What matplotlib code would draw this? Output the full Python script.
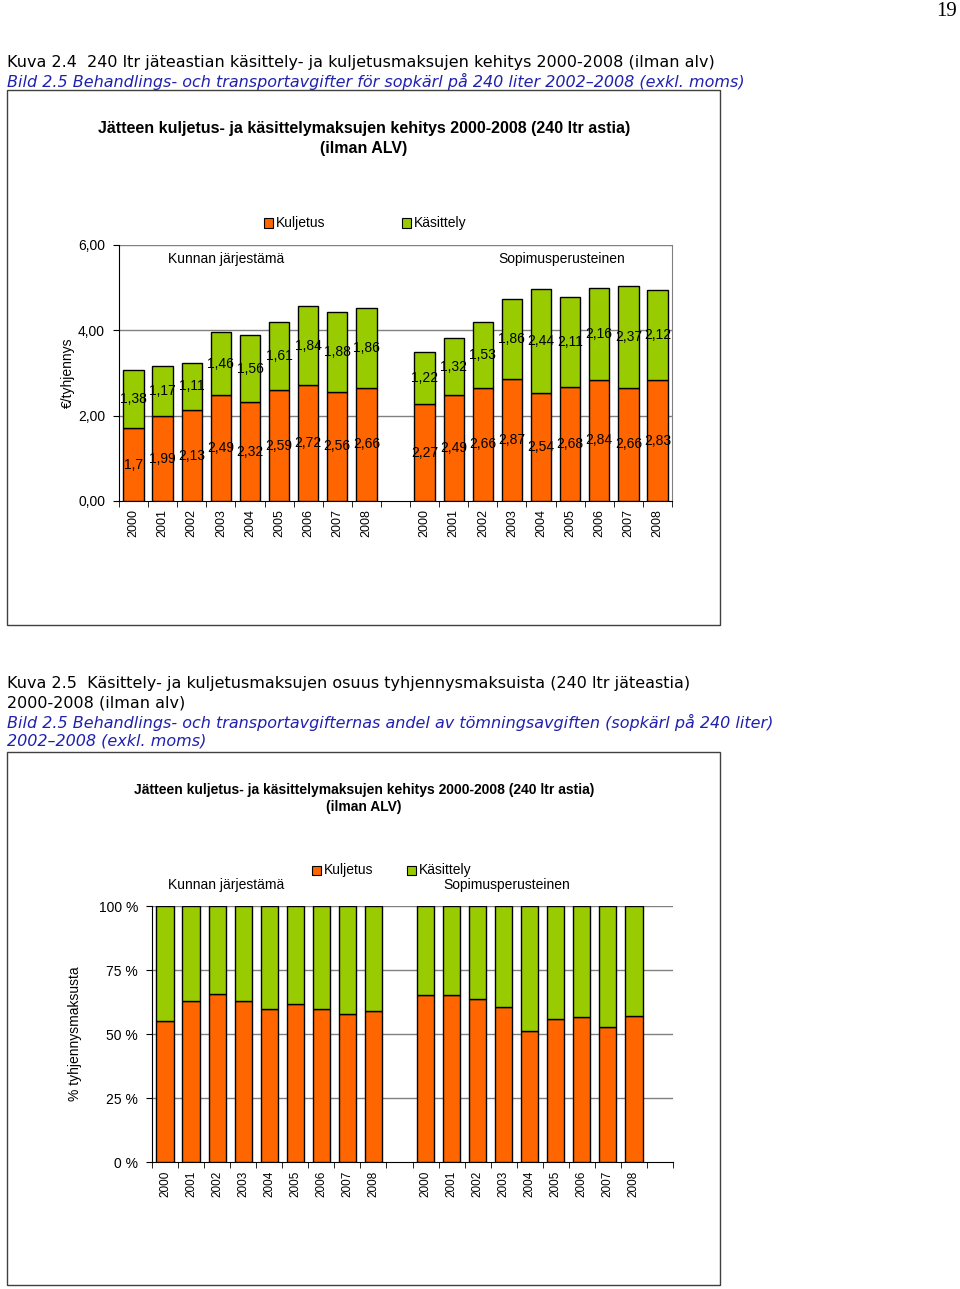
import matplotlib
matplotlib.use("Agg")
import matplotlib.pyplot as plt
from matplotlib.patches import Rectangle
import numpy as np

# ---------------- data ----------------
years = ["2000", "2001", "2002", "2003", "2004", "2005", "2006", "2007", "2008"]
groups = ["Kunnan järjestämä", "Sopimusperusteinen"]
kunta_kuljetus = [1.70, 1.99, 2.13, 2.49, 2.32, 2.59, 2.72, 2.56, 2.66]
kunta_kasittely = [1.38, 1.17, 1.11, 1.46, 1.56, 1.61, 1.84, 1.88, 1.86]
sopimus_kuljetus = [2.27, 2.49, 2.66, 2.87, 2.54, 2.68, 2.84, 2.66, 2.83]
sopimus_kasittely = [1.22, 1.32, 1.53, 1.86, 2.44, 2.11, 2.16, 2.37, 2.12]
series_names = ["Kuljetus", "Käsittely"]

ORANGE = "#FF6600"
GREEN = "#99CC00"
BLUE = "#2020b0"

W, H = 960, 1289
fig = plt.figure(figsize=(W / 100, H / 100), dpi=100)
plt.rcParams['font.family'] = ['Liberation Sans', 'DejaVu Sans']


def fx(x):
    return x / W


def fy(y):
    return 1 - y / H


def rect(l, t, r, b):
    return [fx(l), fy(b), (r - l) / W, (b - t) / H]


def ftext(x, y, s, **kw):
    fig.text(fx(x), fy(y), s, **kw)


# page number & captions
ftext(957, 12, "19", ha="right", va="center", fontsize=15, family=["Liberation Serif", "DejaVu Serif"])
cap_font = ["DejaVu Sans"]
CFS = 11.5
ftext(7, 62, "Kuva 2.4  240 ltr jäteastian käsittely- ja kuljetusmaksujen kehitys 2000-2008 (ilman alv)",
      fontsize=CFS, family=cap_font, va="center")
ftext(7, 81, "Bild 2.5 Behandlings- och transportavgifter för sopkärl på 240 liter 2002–2008 (exkl. moms)",
      fontsize=CFS, family=cap_font, va="center", color=BLUE, style="italic")
ftext(7, 684, "Kuva 2.5  Käsittely- ja kuljetusmaksujen osuus tyhjennysmaksuista (240 ltr jäteastia)",
      fontsize=CFS, family=cap_font, va="center")
ftext(7, 703, "2000-2008 (ilman alv)", fontsize=CFS, family=cap_font, va="center")
ftext(7, 722, "Bild 2.5 Behandlings- och transportavgifternas andel av tömningsavgiften (sopkärl på 240 liter)",
      fontsize=CFS, family=cap_font, va="center", color=BLUE, style="italic")
ftext(7, 741, "2002–2008 (exkl. moms)", fontsize=CFS, family=cap_font, va="center", color=BLUE, style="italic")

# chart frames
for (l, t, r, b) in [(7, 90, 720, 625), (7, 752, 720, 1285)]:
    fig.patches.append(Rectangle((fx(l), fy(b)), (r - l) / W, (b - t) / H, transform=fig.transFigure,
                                 fill=False, edgecolor="#404040", linewidth=1))

title_font = ["Liberation Sans Narrow", "Liberation Sans", "DejaVu Sans"]

# positions: 9 bars, gap, 9 bars
pos1 = np.arange(9)
pos2 = np.arange(10, 19)
positions = np.concatenate([pos1, pos2])
kulj = np.array(kunta_kuljetus + sopimus_kuljetus)
kasi = np.array(kunta_kasittely + sopimus_kasittely)
labels = years + years


def fmt(v):
    s = f"{v:.2f}".replace(".", ",")
    if s.endswith("0"):
        s = s[:-1]
    return s


def setup_x(ax, fs, right):
    ax.set_xlim(-0.5, right)
    ax.set_xticks(positions)
    ax.set_xticklabels(labels, rotation=90, fontsize=fs)
    ax.tick_params(axis="x", which="major", length=0, pad=6)
    ax.set_xticks(np.arange(-0.5, right + 0.5, 1), minor=True)
    ax.tick_params(axis="x", which="minor", length=4, direction="out")


# ---------------- chart 1 ----------------
ax1 = fig.add_axes(rect(119, 245, 672, 501))
ax1.bar(positions, kulj, width=0.7, color=ORANGE, edgecolor="black", linewidth=1, zorder=3)
ax1.bar(positions, kasi, bottom=kulj, width=0.7, color=GREEN, edgecolor="black", linewidth=1, zorder=3)
for p, a, b in zip(positions, kulj, kasi):
    ax1.text(p, a / 2, fmt(a), ha="center", va="center", fontsize=10, zorder=4)
    ax1.text(p, a + b / 2, fmt(b), ha="center", va="center", fontsize=10, zorder=4)
ax1.set_ylim(0, 6)
ax1.set_yticks([0, 2, 4, 6])
ax1.set_yticklabels(["0,00", "2,00", "4,00", "6,00"], fontsize=10)
ax1.tick_params(axis="y", length=4, pad=6)
for yv in [2, 4, 6]:
    ax1.axhline(yv, color="#808080", linewidth=1, zorder=1)
setup_x(ax1, 9, 18.5)
ax1.spines["top"].set_visible(False)
ax1.spines["right"].set_color("#808080")
ax1.set_ylabel("€/tyhjennys", fontsize=10)
ax1.yaxis.set_label_coords(fx(75 - 119) / (553 / W), 0.5)

ftext(364, 129, "Jätteen kuljetus- ja käsittelymaksujen kehitys 2000-2008 (240 ltr astia)",
      ha="center", va="center", fontsize=11.5, weight="bold", family=title_font)
ftext(364, 148, "(ilman ALV)", ha="center", va="center", fontsize=11.5, weight="bold", family=title_font)
ftext(226, 259, groups[0], ha="center", va="center", fontsize=10)
ftext(562, 259, groups[1], ha="center", va="center", fontsize=10)


def legend_at(xo, xg, y):
    for x, c, name in [(xo, ORANGE, series_names[0]), (xg, GREEN, series_names[1])]:
        fig.patches.append(Rectangle((fx(x - 4.5), fy(y + 4.5)), 9 / W, 9 / H, transform=fig.transFigure,
                                     facecolor=c, edgecolor="black", linewidth=0.8))
        ftext(x + 8, y, name, va="center", ha="left", fontsize=10)


legend_at(268, 406, 223)

# ---------------- chart 2 ----------------
tot = kulj + kasi
p_kulj = kulj / tot * 100
p_kasi = kasi / tot * 100
ax2 = fig.add_axes(rect(152, 906, 673, 1162))
ax2.bar(positions, p_kulj, width=0.66, color=ORANGE, edgecolor="black", linewidth=1, zorder=3)
ax2.bar(positions, p_kasi, bottom=p_kulj, width=0.66, color=GREEN, edgecolor="black", linewidth=1, zorder=3)
ax2.set_ylim(0, 100)
ax2.set_yticks([0, 25, 50, 75, 100])
ax2.set_yticklabels(["0 %", "25 %", "50 %", "75 %", "100 %"], fontsize=10)
ax2.tick_params(axis="y", length=4, pad=6)
for yv in [25, 50, 75, 100]:
    ax2.axhline(yv, color="#808080", linewidth=1, zorder=1)
setup_x(ax2, 8.5, 19.5)
ax2.spines["top"].set_visible(False)
ax2.spines["right"].set_visible(False)
ax2.set_ylabel("% tyhjennysmaksusta", fontsize=10)
ax2.yaxis.set_label_coords(fx(82 - 152) / (521 / W), 0.5)

ftext(364, 790, "Jätteen kuljetus- ja käsittelymaksujen kehitys 2000-2008 (240 ltr astia)",
      ha="center", va="center", fontsize=10, weight="bold", family=["Liberation Sans", "DejaVu Sans"])
ftext(364, 807, "(ilman ALV)", ha="center", va="center", fontsize=10, weight="bold",
      family=["Liberation Sans", "DejaVu Sans"])
ftext(226, 885, groups[0], ha="center", va="center", fontsize=10)
ftext(507, 885, groups[1], ha="center", va="center", fontsize=10)
legend_at(316, 411, 870)

fig.savefig("out.png", dpi=100)
